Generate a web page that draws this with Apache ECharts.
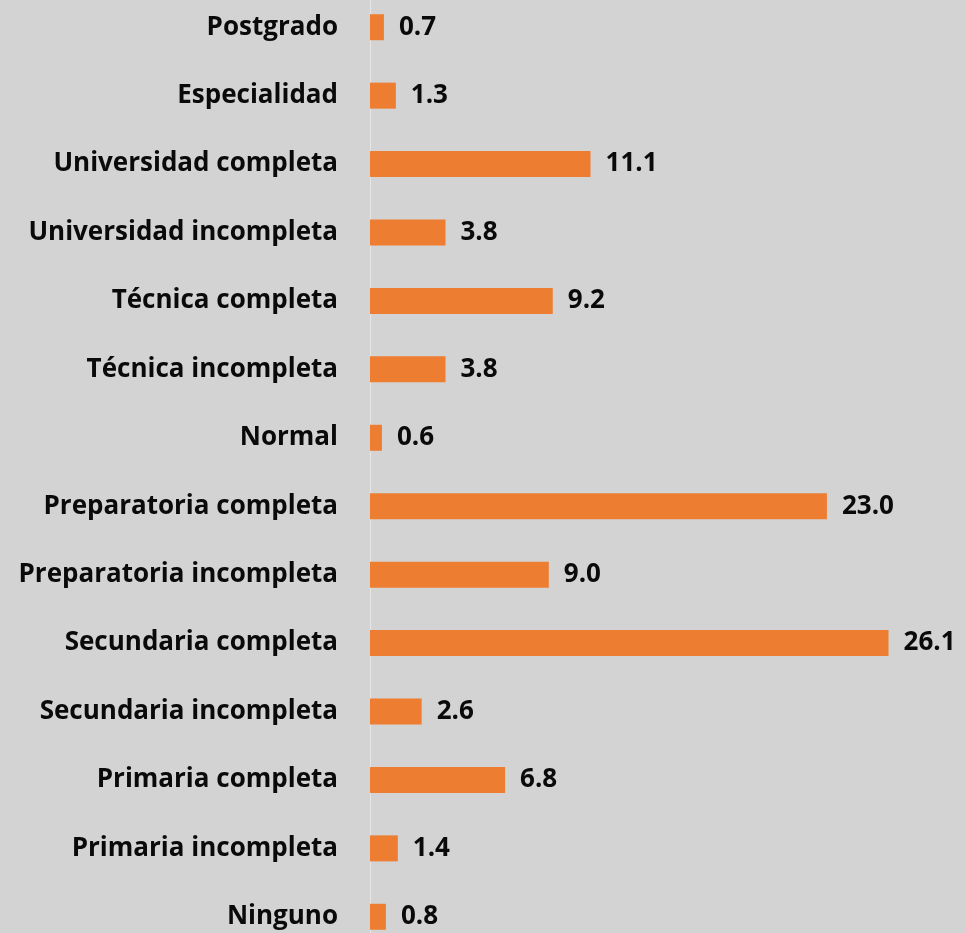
<!DOCTYPE html>
<html>
<head>
<meta charset="utf-8">
<script src="https://cdn.jsdelivr.net/npm/echarts@6/dist/echarts.min.js"></script>
<style>
  html, body { margin: 0; padding: 0; overflow: hidden; background: #d3d3d3; }
  /* el área de categorías sobresale un poco arriba y abajo de la ventana */
  #chart { width: 966px; height: 958px; margin-top: -7px; }
</style>
</head>
<body>
<div id="chart"></div>
<script>
// categorias (de abajo hacia arriba)
var categories = ['Ninguno', 'Primaria incompleta', 'Primaria completa', 'Secundaria incompleta',
  'Secundaria completa', 'Preparatoria incompleta', 'Preparatoria completa', 'Normal',
  'Técnica incompleta', 'Técnica completa', 'Universidad incompleta', 'Universidad completa',
  'Especialidad', 'Postgrado']
var values = [0.8, 1.4, 6.8, 2.6, 26.1, 9.0, 23.0, 0.6, 3.8, 9.2, 3.8, 11.1, 1.3, 0.7]

var chartDom = document.getElementById('chart')
var myChart = echarts.init(chartDom)
var option

option = {
  backgroundColor: '#d3d3d3',
  animation: false,
  grid: {
    left: 370,
    right: 0,
    top: 0,
    bottom: 0,
    containLabel: false
  },
  xAxis: {
    type: 'value',
    min: 0,
    max: 30,
    show: false
  },
  yAxis: {
    type: 'category',
    data: categories,
    axisLine: { show: true, lineStyle: { color: '#e6e6e6', width: 1 } },
    axisTick: { show: false },
    axisLabel: {
      margin: 32,
      fontFamily: 'Open Sans',
      fontWeight: 'bold',
      fontSize: 26,
      color: '#0a0a0a'
    }
  },
  series: [
    {
      type: 'bar',
      data: values,
      barWidth: 26,
      itemStyle: { color: '#ED7D31' },
      label: {
        show: true,
        position: 'right',
        distance: 15,
        fontFamily: 'Open Sans',
        fontWeight: 'bold',
        fontSize: 26,
        color: '#0a0a0a',
        formatter: function (p) { return p.value.toFixed(1) }
      }
    }
  ]
}

option && myChart.setOption(option)
</script>
</body>
</html>
